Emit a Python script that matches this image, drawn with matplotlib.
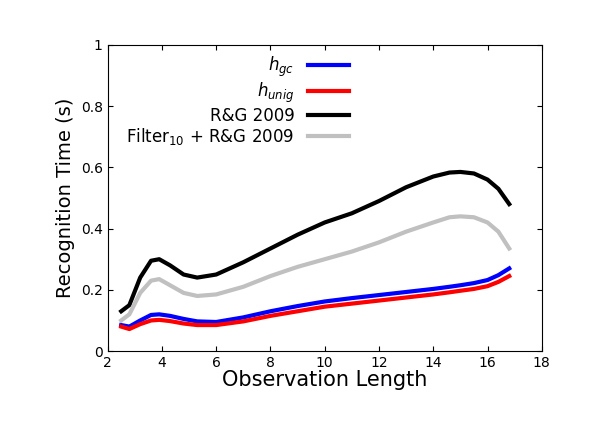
import matplotlib
matplotlib.use("Agg")
import matplotlib.pyplot as plt

x = [2.5, 2.8, 3.2, 3.6, 3.9, 4.3, 4.8, 5.3, 6.0, 7.0, 8.0, 9.0, 10.0, 11.0, 12.0, 13.0, 14.0, 14.6, 15.0, 15.5, 16.0, 16.4, 16.8]
rg = [0.13, 0.15, 0.24, 0.295, 0.30, 0.28, 0.25, 0.24, 0.25, 0.29, 0.335, 0.38, 0.42, 0.45, 0.49, 0.535, 0.57, 0.583, 0.585, 0.58, 0.56, 0.53, 0.48]
filt = [0.10, 0.12, 0.19, 0.23, 0.235, 0.215, 0.19, 0.18, 0.185, 0.21, 0.245, 0.275, 0.30, 0.325, 0.355, 0.39, 0.42, 0.437, 0.44, 0.437, 0.42, 0.39, 0.335]
hgc = [0.085, 0.08, 0.10, 0.118, 0.12, 0.115, 0.105, 0.097, 0.095, 0.11, 0.13, 0.147, 0.162, 0.173, 0.183, 0.193, 0.203, 0.21, 0.215, 0.222, 0.232, 0.248, 0.27]
hun = [0.08, 0.072, 0.088, 0.10, 0.102, 0.098, 0.09, 0.085, 0.085, 0.097, 0.115, 0.13, 0.145, 0.155, 0.165, 0.175, 0.185, 0.192, 0.197, 0.203, 0.212, 0.226, 0.245]

fig = plt.figure(figsize=(5.98, 4.23), dpi=100)
ax = fig.add_axes([0.18, 0.17, 0.726, 0.724])
ax.plot(x, hgc, color="#0000ff", lw=3, label=r"$h_{gc}$")
ax.plot(x, hun, color="#ff0000", lw=3, label=r"$h_{unig}$")
ax.plot(x, rg, color="black", lw=3, label="R&G 2009")
ax.plot(x, filt, color="#c0c0c0", lw=3, label=r"Filter$_{10}$ + R&G 2009")
ax.set_xlim(2, 18)
ax.set_ylim(0, 1)
ax.set_xticks(range(2, 19, 2))
ax.set_yticks([0, 0.2, 0.4, 0.6, 0.8, 1])
ax.set_yticklabels(["0", "0.2", "0.4", "0.6", "0.8", "1"])
ax.tick_params(direction="in", labelsize=10, top=True, right=True)
ax.set_xlabel("Observation Length", fontsize=15, labelpad=0)
ax.set_ylabel("Recognition Time (s)", fontsize=14)
ax.legend(loc="upper left", bbox_to_anchor=(0.02, 1.0), frameon=False, markerfirst=False,
          fontsize=12, handlelength=2.5, labelspacing=0.1, borderaxespad=0.2)
fig.savefig("out.png", dpi=100)
